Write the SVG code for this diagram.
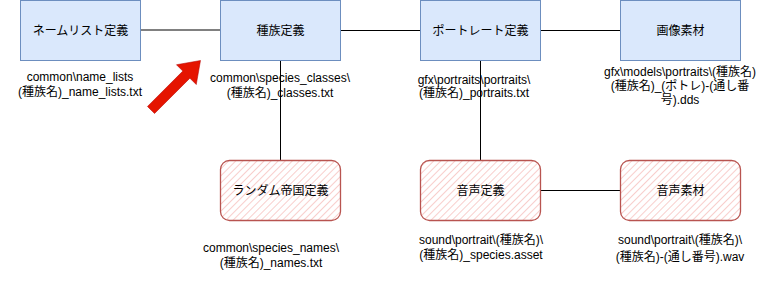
<svg xmlns="http://www.w3.org/2000/svg" width="761" height="292" viewBox="0 0 761 292">
<defs>
<pattern id="hatch" patternUnits="userSpaceOnUse" width="5" height="5" patternTransform="rotate(45)">
<rect width="5" height="5" fill="#ffffff"/>
<line x1="0" y1="0" x2="0" y2="5" stroke="#f8cecc" stroke-width="2"/>
</pattern>
</defs>
<style>
.blue{fill:#dae8fc;stroke:#6c8ebf;stroke-width:1}
.red{fill:url(#hatch);stroke:#b85450;stroke-width:1.3}
.t{font-family:"Liberation Sans","Noto Sans CJK JP",Arial,sans-serif;font-size:12px;fill:#000;text-anchor:middle}
.ln{stroke:#000;stroke-width:1;fill:none}
</style>
<rect width="761" height="292" fill="#fff"/>
<g id="connectors">
<line x1="140" y1="30" x2="220" y2="30" stroke="#808080" stroke-width="2"/>
<line class="ln" x1="340" y1="30.5" x2="420" y2="30.5"/>
<line class="ln" x1="540" y1="30.5" x2="620" y2="30.5"/>
<line class="ln" x1="280.5" y1="60" x2="280.5" y2="160"/>
<line class="ln" x1="480.5" y1="60" x2="480.5" y2="160"/>
<line class="ln" x1="540" y1="190.5" x2="620" y2="190.5"/>
</g>
<g id="arrow">
<polygon transform="translate(151,110) rotate(-45)" points="0,-5 50,-5 50,-14 70,0 50,14 50,5 0,5" fill="#e51400" stroke="#b20000" stroke-width="0.5"/>
</g>
<g id="node-namelist">
<rect class="blue" x="20.5" y="0.5" width="120" height="60"/>
<text class="t" x="80.5" y="35">ネームリスト定義</text>
</g>
<g id="node-species">
<rect class="blue" x="220.5" y="0.5" width="120" height="60"/>
<text class="t" x="280.5" y="35">種族定義</text>
</g>
<g id="node-portrait">
<rect class="blue" x="420.5" y="0.5" width="120" height="60"/>
<text class="t" x="480.5" y="35">ポートレート定義</text>
</g>
<g id="node-image">
<rect class="blue" x="620.5" y="0.5" width="120" height="60"/>
<text class="t" x="680.5" y="35">画像素材</text>
</g>
<g id="node-random">
<rect class="red" x="220.5" y="160.5" width="120" height="60" rx="9"/>
<text class="t" x="280.5" y="195">ランダム帝国定義</text>
</g>
<g id="node-voice">
<rect class="red" x="420.5" y="160.5" width="120" height="60" rx="9"/>
<text class="t" x="480.5" y="195">音声定義</text>
</g>
<g id="node-voicemat">
<rect class="red" x="620.5" y="160.5" width="120" height="60" rx="9"/>
<text class="t" x="680.5" y="195">音声素材</text>
</g>
<g id="labels">
<text class="t" x="80" y="81">common\name_lists</text>
<text class="t" x="80" y="96">(種族名)_name_lists.txt</text>
<text class="t" x="280" y="82">common\species_classes\</text>
<text class="t" x="280" y="97">(種族名)_classes.txt</text>
<text class="t" x="474" y="84">gfx\portraits\portraits\</text>
<text class="t" x="474" y="97">(種族名)_portraits.txt</text>
<text class="t" x="680" y="76">gfx\models\portraits\(種族名)</text>
<text class="t" x="680" y="90">(種族名)_(ポトレ)-(通し番</text>
<text class="t" x="680" y="104">号).dds</text>
<text class="t" x="271" y="252">common\species_names\</text>
<text class="t" x="271" y="267">(種族名)_names.txt</text>
<text class="t" x="481" y="244">sound\portrait\(種族名)\</text>
<text class="t" x="481" y="259">(種族名)_species.asset</text>
<text class="t" x="680" y="244">sound\portrait\(種族名)\</text>
<text class="t" x="680" y="261">(種族名)-(通し番号).wav</text>
</g>
</svg>
